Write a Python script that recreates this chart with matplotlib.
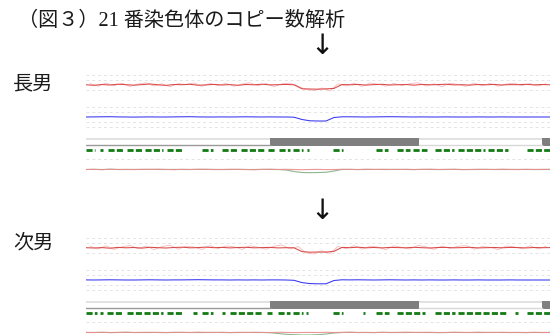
import numpy as np
import matplotlib
matplotlib.use("Agg")
import matplotlib.pyplot as plt
from matplotlib.patches import Rectangle

plt.rcParams['font.family'] = ['Noto Sans CJK JP', 'DejaVu Sans']

TITLE = "（図３）21 番染色体のコピー数解析"
SUBJECTS = ["長男", "次男"]

# probe positions along the displayed part of chromosome 21 (arbitrary units)
POS = np.arange(0, 465, 8)
POS_SC = np.arange(4, 461, 8)

# ---------- 長男 ----------
p1_ratio = [0.02, -0.03, 0.05, 0.00, 0.08, 0.03, -0.02, 0.04, 0.10, 0.02,
            -0.04, 0.05, 0.03, 0.07, -0.02, 0.01, 0.06, 0.00, 0.04, -0.03,
            0.05, 0.02, 0.08, 0.01, 0.03, 0.06, 0.02, -0.38, -0.40, -0.42,
            -0.39, -0.34, 0.05, 0.02, 0.06, -0.01, 0.04, 0.07, 0.00, 0.03,
            0.05, -0.02, 0.06, 0.02, 0.04, 0.08, 0.01, 0.03, -0.01, 0.05,
            0.02, 0.06, 0.00, 0.04, 0.03, 0.07, 0.01, 0.05, 0.02]
p1_scatter = [0.15, -0.12, 0.20, -0.08, 0.18, -0.15, 0.10, 0.22, -0.10, 0.12,
              -0.18, 0.14, 0.05, 0.20, -0.14, 0.16, -0.06, 0.18, -0.12, 0.10,
              0.22, -0.08, 0.15, -0.16, 0.12, 0.18, -0.10, -0.45, -0.55, -0.30,
              -0.58, 0.12, -0.10, 0.18, -0.14, 0.20, 0.08, -0.12, 0.16, -0.06,
              0.14, 0.22, -0.10, 0.12, -0.16, 0.18, 0.06, -0.14, 0.20, -0.08,
              0.16, -0.12, 0.10, 0.18, -0.06, 0.14, -0.10, 0.12]
p1_smooth = [0.00, 0.01, 0.02, 0.03, 0.01, 0.00, -0.01, 0.00, 0.01, 0.00,
             0.00, 0.01, 0.02, 0.03, 0.01, 0.00, 0.00, 0.01, 0.00, 0.01,
             0.02, 0.01, 0.00, 0.01, 0.00, 0.00, -0.02, -0.25, -0.38, -0.40,
             -0.40, -0.05, 0.02, 0.02, 0.01, 0.00, 0.01, 0.02, 0.03, 0.02,
             0.01, 0.00, 0.01, 0.00, 0.00, 0.01, 0.00, 0.00, 0.00, 0.01,
             0.00, 0.00, 0.01, 0.00, 0.00, 0.00, 0.00, 0.00, 0.00]
p1_allele_red = [0.00, 0.02, -0.02, 0.03, 0.00, 0.01, -0.01, 0.02, 0.00, 0.03,
                 0.01, -0.02, 0.02, 0.00, 0.01, 0.03, -0.01, 0.00, 0.02, 0.01,
                 0.00, -0.02, 0.01, 0.03, 0.00, 0.02, 0.00, -0.02, 0.00, 0.01,
                 -0.01, 0.00, 0.02, 0.01, -0.01, 0.03, 0.00, 0.02, 0.01, 0.00,
                 0.02, -0.01, 0.01, 0.03, 0.00, 0.01, 0.02, -0.01, 0.00, 0.02,
                 0.01, 0.00, 0.03, 0.01, -0.01, 0.02, 0.00, 0.01, 0.02]
p1_allele_green = [0.00, 0.01, 0.00, 0.02, 0.00, 0.00, 0.01, 0.00, 0.02, 0.00,
                   0.00, 0.01, 0.00, 0.00, 0.02, 0.00, 0.01, 0.00, 0.00, 0.01,
                   0.00, 0.00, 0.01, 0.00, 0.00, -0.05, -0.20, -0.30, -0.32, -0.30,
                   -0.28, -0.15, 0.00, 0.01, 0.00, 0.00, 0.01, 0.00, 0.00, 0.01,
                   0.00, 0.00, 0.01, 0.00, 0.00, 0.00, 0.01, 0.00, 0.00, 0.00,
                   0.01, 0.00, 0.00, 0.00, 0.01, 0.00, 0.00, 0.00, 0.00]
p1_markers = [(0, 9), (14, 17), (22, 37), (41, 57), (59, 77), (81, 96),
              (116, 127), (136, 152), (155, 179), (182, 189), (193, 204),
              (207, 217), (221, 223), (247, 257), (290, 302), (311, 324),
              (327, 341), (349, 368), (372, 399), (402, 422), (441, 464)]

# ---------- 次男 ----------
p2_ratio = [0.03, 0.00, 0.04, -0.02, 0.06, 0.02, 0.05, -0.01, 0.07, 0.03,
            0.00, 0.05, 0.08, 0.02, 0.04, 0.09, 0.03, 0.06, 0.01, 0.05,
            0.07, 0.02, 0.04, 0.06, 0.01, 0.03, 0.02, -0.36, -0.42, -0.40,
            -0.41, -0.33, 0.06, 0.03, 0.08, 0.02, 0.05, 0.01, 0.06, 0.04,
            0.02, 0.07, 0.03, 0.00, 0.05, 0.06, 0.02, 0.04, 0.07, 0.01,
            0.03, 0.05, 0.02, 0.06, 0.04, 0.01, 0.05, 0.03, 0.04]
p2_scatter = [0.18, -0.10, 0.22, -0.14, 0.12, 0.25, -0.08, 0.20, -0.16, 0.15,
              0.28, -0.12, 0.18, 0.10, -0.15, 0.24, -0.06, 0.20, 0.12, -0.14,
              0.22, 0.08, -0.12, 0.18, 0.30, -0.10, 0.15, -0.48, -0.60, -0.28,
              -0.55, 0.16, -0.08, 0.24, -0.12, 0.18, 0.10, -0.16, 0.22, 0.06,
              -0.10, 0.26, 0.12, -0.14, 0.20, -0.06, 0.18, 0.24, -0.12, 0.14,
              0.08, -0.16, 0.20, 0.12, -0.08, 0.22, -0.10, 0.16]
p2_smooth = [0.01, 0.00, 0.01, 0.02, 0.01, 0.00, 0.00, 0.01, 0.02, 0.01,
             0.00, 0.01, 0.01, 0.02, 0.03, 0.02, 0.01, 0.01, 0.00, 0.01,
             0.00, 0.01, 0.00, 0.01, 0.01, 0.00, -0.03, -0.26, -0.36, -0.38,
             -0.38, -0.05, 0.02, 0.01, 0.02, 0.01, 0.00, 0.01, 0.02, 0.01,
             0.00, 0.01, 0.00, 0.01, 0.00, 0.00, 0.01, 0.00, 0.00, 0.01,
             0.00, 0.00, 0.00, 0.01, 0.00, 0.00, 0.00, 0.00, 0.00]
p2_allele_red = [0.01, 0.00, 0.02, -0.01, 0.01, 0.03, 0.00, 0.01, 0.02, 0.00,
                 -0.01, 0.02, 0.01, 0.00, 0.03, 0.01, 0.00, 0.02, -0.01, 0.01,
                 0.00, 0.02, 0.01, 0.00, 0.02, 0.01, -0.01, 0.00, 0.01, 0.00,
                 0.02, 0.00, 0.01, 0.03, 0.00, 0.01, -0.01, 0.02, 0.00, 0.01,
                 0.03, 0.00, 0.01, 0.02, -0.01, 0.00, 0.02, 0.01, 0.00, 0.03,
                 0.01, 0.00, 0.02, 0.00, 0.01, -0.01, 0.02, 0.00, 0.01]
p2_allele_green = [0.00, 0.00, 0.01, 0.00, 0.00, 0.01, 0.00, 0.00, 0.00, 0.01,
                   0.00, 0.00, 0.01, 0.00, 0.00, 0.00, 0.01, 0.00, 0.00, 0.00,
                   0.01, 0.00, 0.00, -0.02, -0.10, -0.18, -0.22, -0.25, -0.25, -0.22,
                   -0.15, -0.05, 0.00, 0.01, 0.00, 0.00, 0.00, 0.01, 0.00, 0.00,
                   0.00, 0.01, 0.00, 0.00, 0.00, 0.00, 0.01, 0.00, 0.00, 0.00,
                   0.00, 0.01, 0.00, 0.00, 0.00, 0.00, 0.00, 0.00, 0.00]
p2_markers = [(0, 11), (14, 17), (21, 37), (41, 57), (58, 77), (81, 97),
              (107, 111), (116, 127), (136, 139), (144, 177), (181, 186),
              (192, 204), (207, 217), (220, 222), (247, 257), (277, 279),
              (290, 303), (311, 339), (349, 369), (372, 422), (429, 432),
              (441, 464)]

# cytoband stain along the view
BANDS = [(0, 184, "light"), (184, 333, "dark"), (333, 456, "white"), (456, 464, "dark")]

PANELS = [
    dict(ratio=p1_ratio, scatter=p1_scatter, smooth=p1_smooth,
         ared=p1_allele_red, agreen=p1_allele_green, markers=p1_markers),
    dict(ratio=p2_ratio, scatter=p2_scatter, smooth=p2_smooth,
         ared=p2_allele_red, agreen=p2_allele_green, markers=p2_markers),
]

# ---------- layout (pixels) ----------
W, H = 550, 335
X0 = 86
PANEL_TOPS = [70, 233]
PANEL_H = 110
RED_BASE, BLUE_BASE, GREEN_Y, BOT_BASE = 15, 47, 80, 99.5
BAR_TOP, BAR_BOT = 68, 76
SCALE = 10.0
GRID_Y = [5, 10, 20, 37, 42, 52, 57, 89]

fig = plt.figure(figsize=(W / 100, H / 100), dpi=100)
fig.patch.set_facecolor("white")

fig.text(18 / W, 1 - 21 / H, TITLE, fontsize=14.5, ha="left", va="center",
         color="#1a1a1a", family=["Liberation Serif", "Noto Sans CJK JP"])

for i, (panel, top) in enumerate(zip(PANELS, PANEL_TOPS)):
    ax = fig.add_axes([X0 / W, 1 - (top + PANEL_H) / H, (W - X0) / W, PANEL_H / H])
    ax.set_xlim(0, 464)
    ax.set_ylim(PANEL_H, 0)
    ax.axis("off")

    for gy in GRID_Y:
        ax.axhline(gy, color="#e4e4e4", lw=0.7, dashes=(3, 3))

    # copy-number log ratio
    ax.plot(POS_SC, RED_BASE - np.array(panel["scatter"]) * SCALE,
            color="#f4a8a8", lw=0.6, alpha=0.8)
    ax.plot(POS, RED_BASE - np.array(panel["ratio"]) * SCALE,
            color="#d94848", lw=0.75)

    # smoothed signal
    ax.plot(POS, BLUE_BASE - np.array(panel["smooth"]) * SCALE,
            color="#3535f0", lw=0.75)

    # cytoband ideogram
    for s, e, stain in BANDS:
        if stain == "dark":
            ax.add_patch(Rectangle((s, BAR_TOP), e - s, BAR_BOT - BAR_TOP,
                                   facecolor="#7f7f7f", edgecolor="none"))
        else:
            ax.add_patch(Rectangle((s, BAR_TOP), e - s, 2.4,
                                   facecolor="#e2e2e2", edgecolor="none"))
            ax.plot([s, e], [BAR_BOT - 0.8, BAR_BOT - 0.8],
                    color="#9a9a9a" if stain == "light" else "#d8d8d8", lw=1.0)

    # probe markers
    for s, e in panel["markers"]:
        ax.plot([s, e], [GREEN_Y, GREEN_Y], color="#137a13", lw=2.0,
                dashes=(2.2, 0.8), solid_capstyle="butt", dash_capstyle="butt")

    # allele tracks
    ax.plot(POS, BOT_BASE - np.array(panel["agreen"]) * SCALE,
            color="#8fb58f", lw=0.8)
    ax.plot(POS, BOT_BASE - np.array(panel["ared"]) * SCALE,
            color="#ec8c8c", lw=0.8, alpha=0.9)

# subject labels and arrows
LABEL_Y = [84, 243]
ARROW_Y = [46, 211]
for name, ly, ay in zip(SUBJECTS, LABEL_Y, ARROW_Y):
    fig.text(13 / W, 1 - ly / H, name, fontsize=14.5, ha="left", va="center",
             color="#1a1a1a")
    fig.text(322 / W, 1 - ay / H, "↓", fontsize=20, ha="center", va="center",
             color="#111111", family="DejaVu Sans")

fig.savefig("out.png", dpi=100, facecolor="white")
